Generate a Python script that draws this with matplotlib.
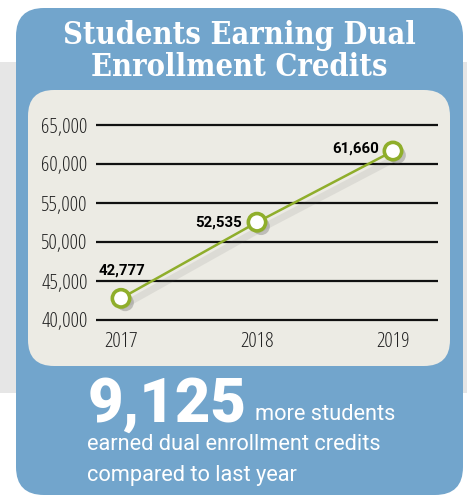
import matplotlib
matplotlib.use("Agg")
import matplotlib.pyplot as plt
import matplotlib.patheffects as pe
from matplotlib.patches import FancyBboxPatch, Rectangle
from matplotlib import font_manager

years = [2017, 2018, 2019]
students = [42777, 52535, 61660]
point_labels = ["42,777", "52,535", "61,660"]
label_offsets = [(24, 28), (-15, 0), (-14, 2)]
y_ticks = [40000, 45000, 50000, 55000, 60000, 65000]
y_tick_labels = ["40,000", "45,000", "50,000", "55,000", "60,000", "65,000"]
title_lines = ["Students Earning Dual", "Enrollment Credits"]
big_number = "9,125"
note_lines = ["more students", "earned dual enrollment credits", "compared to last year"]

blue = "#72a5cc"
beige = "#ecebe4"
band = "#e6e6e6"
green = "#8fae2b"

# look for a narrow sans face, fall back to Roboto
narrow = dict(family="Roboto")
found = False
for st in ["semi-condensed", "condensed"]:
    for fam in ["Noto Sans", "Open Sans", "Roboto", "DejaVu Sans"]:
        if any(f.name == fam and f.stretch == st for f in font_manager.fontManager.ttflist):
            narrow = dict(family=fam, fontstretch=st)
            found = True
            break
    if found:
        break

fig = plt.figure(figsize=(4.67, 4.96), dpi=100)
renderer = fig.canvas.get_renderer()


def fit(t, width):
    # scale font so the text takes the given pixel width
    w = t.get_window_extent(renderer).width
    t.set_fontsize(t.get_fontsize() * width / w)
    return t.get_fontsize()


# background drawn in pixel coordinates
bg = fig.add_axes([0, 0, 1, 1])
bg.set_xlim(0, 467)
bg.set_ylim(496, 0)
bg.axis("off")
bg.add_patch(Rectangle((0, 62), 467, 331, color=band, lw=0))
bg.add_patch(FancyBboxPatch((16, 8), 447, 487, boxstyle="round,pad=0,rounding_size=28",
                            fc=blue, ec="none"))
bg.add_patch(FancyBboxPatch((28, 90), 422, 276, boxstyle="round,pad=0,rounding_size=26",
                            fc=beige, ec="none"))

t1 = bg.text(239, 44, title_lines[0], ha="center", va="baseline", color="white",
             family="DejaVu Serif", fontweight="bold", fontstretch="condensed", fontsize=21.5)
title_size = fit(t1, 353)
bg.text(239, 76, title_lines[1], ha="center", va="baseline", color="white",
        family="DejaVu Serif", fontweight="bold", fontstretch="condensed", fontsize=title_size)

big = bg.text(88, 422, big_number, ha="left", va="baseline", color="white",
              family="Roboto", fontweight="heavy", fontsize=44)
fit(big, 159)

n1 = bg.text(87, 450, note_lines[1], ha="left", va="baseline", color="white",
             family="Roboto", fontsize=16)
note_size = fit(n1, 294)
bg.text(255, 420, note_lines[0], ha="left", va="baseline", color="white",
        family="Roboto", fontsize=note_size)
bg.text(87, 481, note_lines[2], ha="left", va="baseline", color="white",
        family="Roboto", fontsize=note_size)

# sizes for the chart texts
probe = bg.text(0, 0, y_tick_labels[-1], fontsize=12, **narrow)
tick_size = fit(probe, 46)
probe.remove()
probe = bg.text(0, 0, point_labels[0], fontsize=12, fontweight="bold", family="Roboto")
label_size = fit(probe, 47)
probe.remove()

# chart
ax = fig.add_axes([96 / 467, 1 - 323.9 / 496, 342 / 467, 202.8 / 496])
ax.set_facecolor("none")
ax.set_xlim(2016.816, 2019.331)
ax.set_ylim(39500, 65500)
for s in ax.spines.values():
    s.set_visible(False)
for yv in y_ticks:
    ax.axhline(yv, color="#111111", lw=1.6, zorder=1)

ax.set_yticks(y_ticks)
ax.set_yticklabels(y_tick_labels, fontsize=tick_size, color="#222222", **narrow)
ax.set_xticks(years)
ax.set_xticklabels([str(y) for y in years], fontsize=tick_size, color="#222222", **narrow)
ax.tick_params(length=0, axis="y", pad=6)
ax.tick_params(length=0, axis="x", pad=6)

ax.plot(years, students, color=green, lw=1.8, zorder=3,
        path_effects=[pe.SimpleLineShadow(offset=(2, -5), shadow_color="#555555",
                                          alpha=0.1, linewidth=5),
                      pe.Normal()])
ax.plot(years, students, ls="none", marker="o", ms=12.5, mew=2.6, mfc="white", mec=green,
        zorder=4,
        path_effects=[pe.SimplePatchShadow(offset=(3, -3), shadow_rgbFace="#555555", alpha=0.3),
                      pe.Normal()])

for x, y, lab, off in zip(years, students, point_labels, label_offsets):
    ax.annotate(lab, (x, y), xytext=off, textcoords="offset pixels",
                ha="right", va="center", fontweight="bold", family="Roboto",
                fontsize=label_size, color="black", zorder=5)

fig.savefig("out.png", dpi=100)
